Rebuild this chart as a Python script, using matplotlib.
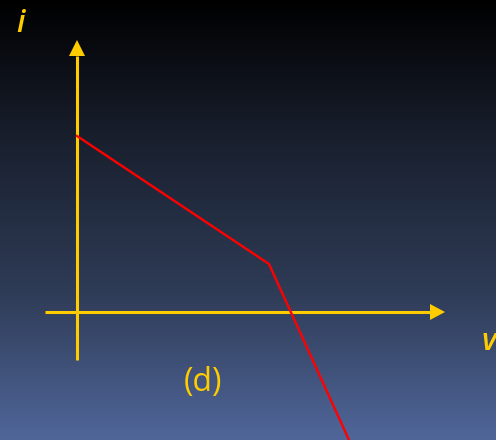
import numpy as np
import matplotlib.pyplot as plt
from matplotlib.colors import LinearSegmentedColormap

# characteristic curve (v, i) relative to the origin of the axes
curve_v = [0, 192, 272, 300]
curve_i = [176, 48, -128, -189.6]

# axis extents
v_axis = [-32, 353]
i_axis = [-48, 256]

yellow = '#ffcc00'
red = '#ff0000'

fig = plt.figure(figsize=(4.96, 4.40), dpi=100)
ax = fig.add_axes([0, 0, 1, 1])
ax.set_xlim(-77, 419)
ax.set_ylim(-128, 312)
ax.axis('off')

# background gradient: black at the top, slate blue at the bottom
cmap = LinearSegmentedColormap.from_list('bg', ['#000000', '#1a2130', '#2f3c57', '#50669a'])
grad = np.linspace(0, 1, 256).reshape(-1, 1)
ax.imshow(grad, cmap=cmap, aspect='auto', extent=[-77, 419, -128, 312], zorder=0)

# axes with arrow heads
ax.plot(v_axis, [0, 0], color=yellow, lw=2.2, zorder=2, solid_capstyle='butt')
ax.plot([0, 0], i_axis, color=yellow, lw=2.2, zorder=2, solid_capstyle='butt')
ax.fill([v_axis[1], v_axis[1] + 15, v_axis[1]], [-8, 0, 8], color=yellow, lw=0, zorder=2)
ax.fill([-8, 0, 8], [i_axis[1], i_axis[1] + 16, i_axis[1]], color=yellow, lw=0, zorder=2)

# red curve
ax.plot(curve_v, curve_i, color=red, lw=1.7, zorder=3)

# labels
ax.text(-57, 288, 'i', color=yellow, fontsize=22, style='italic', weight='semibold',
        family='Open Sans', ha='center', va='center')
ax.text(405, -30, 'v', color=yellow, fontsize=22, style='italic', weight='semibold',
        family='Open Sans', ha='left', va='center')
ax.text(126, -70, '(d)', color=yellow, fontsize=23, family='Open Sans',
        ha='center', va='center')

fig.savefig('out.png', dpi=100)
